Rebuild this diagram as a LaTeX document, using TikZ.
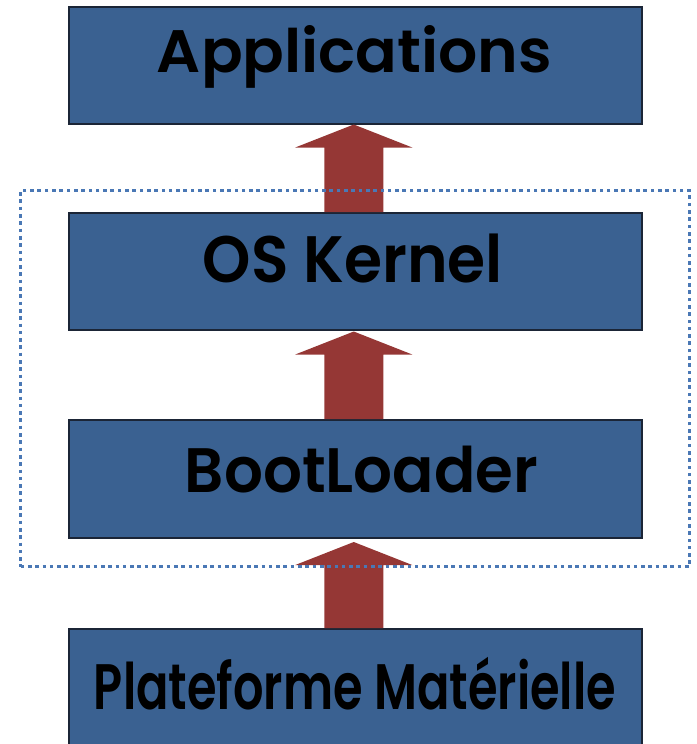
\documentclass[tikz,border=0pt]{standalone}
\usepackage{fontspec}
\newfontfamily\layerfont{Poppins SemiBold}
\usepackage{graphicx}
\usetikzlibrary{calc}
\definecolor{boxfill}{HTML}{3A6191}
\definecolor{boxline}{HTML}{1B2536}
\definecolor{arrowfill}{HTML}{953735}
\definecolor{dotline}{HTML}{4A78B5}
\newcommand\fitlabel[3]{\resizebox{#1}{#2}{\setbox0\hbox{#3}\ht0=\fontcharht\font`H\relax\box0}}
\newcommand\uparrowblock[3]{% #1 lower node, #2 upper node, #3 gap below upper node
  \fill[arrowfill] ($(#1.north)+(-31,0)$) -- ($(#2.south)+(-31,23+#3)$) -- ($(#2.south)+(-60,23+#3)$)
    -- ($(#2.south)+(-1.5,#3)$) -- ($(#2.south)+(57,23+#3)$) -- ($(#2.south)+(28,23+#3)$)
    -- ($(#1.north)+(28,0)$) -- cycle;}
\begin{document}
\begin{tikzpicture}[x=1pt,y=-1pt,
  layer/.style={draw=boxline, line width=1.5pt, fill=boxfill, minimum width=573pt,
    minimum height=117pt, inner sep=0pt, anchor=north west},
  lbl/.style={inner sep=0pt, anchor=base, text=black,
    font=\layerfont},
  group/.style={draw=dotline, line width=3.2pt, dash pattern=on 3.6pt off 3.7pt,
    minimum width=669pt, minimum height=376pt, inner sep=0pt, anchor=north west}]
\useasboundingbox (0,0) rectangle (696,744);
\clip (0,0) rectangle (696,744);
\node[layer] (app) at (68,6) {};
\node[layer] (os) at (68,212) {};
\node[layer, minimum height=118pt] (boot) at (68,419) {};
\node[layer, minimum height=140pt] (hw) at (68,628) {};
\uparrowblock{os}{app}{0}
\uparrowblock{boot}{os}{1}
\uparrowblock{hw}{boot}{3.5}
\node[group] (grp) at (19,189) {};
\node[lbl] (app-t) at (354.5,72) {\fitlabel{395pt}{42pt}{Applications}};
\node[lbl] (os-t) at (353,282) {\fitlabel{300pt}{46pt}{OS Kernel}};
\node[lbl] (boot-t) at (361.5,492) {\fitlabel{353pt}{44pt}{BootLoader}};
\node[lbl] (hw-t) at (355,709) {\fitlabel{522pt}{45pt}{Plateforme Matérielle}};
\end{tikzpicture}
\end{document}
